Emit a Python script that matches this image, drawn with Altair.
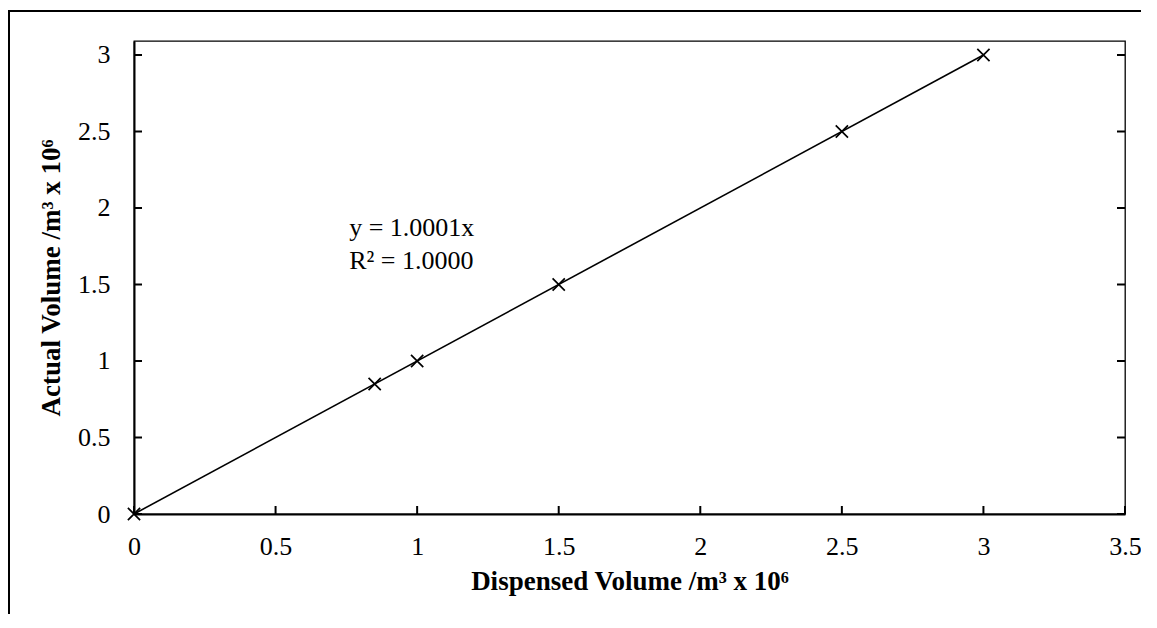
import altair as alt
import pandas as pd

# ---- data ----
dispensed = [0.0, 0.85, 1.0, 1.5, 2.5, 3.0]
actual = [0.0, 0.85, 1.0, 1.5, 2.5, 3.0]
slope = 1.0001
trend_x = [0.0, 3.0]
x_ticks = [0, 0.5, 1, 1.5, 2, 2.5, 3, 3.5]
y_ticks = [0, 0.5, 1, 1.5, 2, 2.5, 3]
eq_lines = ["y = 1.0001x", "R² = 1.0000"]

W, H = 991, 473
FONT = "Liberation Serif"

xs = alt.Scale(domain=[0, 3.5], nice=False, zero=True)
ys = alt.Scale(domain=[0, 3.0915], nice=False, zero=True)

pts = pd.DataFrame({"x": dispensed, "y": actual})
trend = pd.DataFrame({"x": trend_x, "y": [slope * v for v in trend_x]})
xt = pd.DataFrame({"x": x_ticks})
yt = pd.DataFrame({"y": y_ticks})
one = pd.DataFrame({"a": [0]})

xaxis = alt.Axis(values=x_ticks, format="~g", ticks=False, grid=False, labelFlush=False,
                 labelPadding=19, labelFont=FONT, labelFontSize=26, labelColor="black",
                 title="Dispensed Volume /m³ x 10⁶", titleFont=FONT, titleFontSize=27,
                 titleFontWeight="bold", titleColor="black", titlePadding=9,
                 domainColor="black", domainWidth=2)
yaxis = alt.Axis(values=y_ticks, format="~g", ticks=False, grid=False, labelFlush=False,
                 labelPadding=24, labelFont=FONT, labelFontSize=26, labelColor="black",
                 title="Actual Volume /m³ x 10⁶", titleFont=FONT, titleFontSize=27,
                 titleFontWeight="bold", titleColor="black", titlePadding=12,
                 domainColor="black", domainWidth=2)

X = alt.X("x:Q", scale=xs, axis=xaxis)
Y = alt.Y("y:Q", scale=ys, axis=yaxis)

line = alt.Chart(trend).mark_line(color="black", strokeWidth=1.6).encode(x=X, y=Y)

points = alt.Chart(pts).mark_point(
    shape="M-1,-1L1,1M-1,1L1,-1", size=150, filled=False,
    stroke="black", strokeWidth=1.7, opacity=1,
).encode(x=X, y=Y)

eq = alt.Chart(one).mark_text(
    text=eq_lines, align="left", baseline="alphabetic", font=FONT,
    fontSize=26, lineHeight=33, color="black",
).encode(x=alt.datum(0.76, scale=xs, axis=xaxis), y=alt.datum(1.82, scale=ys, axis=yaxis))

left_ticks = alt.Chart(yt).mark_rule(color="black", strokeWidth=2).encode(
    y=Y, x=alt.value(0), x2=alt.value(8))
right_ticks = alt.Chart(yt).mark_rule(color="black", strokeWidth=2).encode(
    y=Y, x=alt.value(W - 8), x2=alt.value(W))
bottom_ticks = alt.Chart(xt).mark_rule(color="black", strokeWidth=2).encode(
    x=X, y=alt.value(H - 8), y2=alt.value(H))

border_left = alt.Chart(one).mark_rule(color="black", strokeWidth=2).encode(
    x=alt.value(-125), y=alt.value(-30), y2=alt.value(H + 300))
border_top = alt.Chart(one).mark_rule(color="black", strokeWidth=2).encode(
    y=alt.value(-30), x=alt.value(-126), x2=alt.value(W + 300))

chart = alt.layer(
    line, points, left_ticks, right_ticks, bottom_ticks, eq, border_left, border_top
).properties(
    width=W, height=H,
    padding={"left": 126, "top": 33, "right": 16, "bottom": 100},
    autosize="none",
).configure_view(stroke="black", strokeWidth=1.3)

chart.save("out.html", embed_options={"renderer": "svg", "actions": False})
